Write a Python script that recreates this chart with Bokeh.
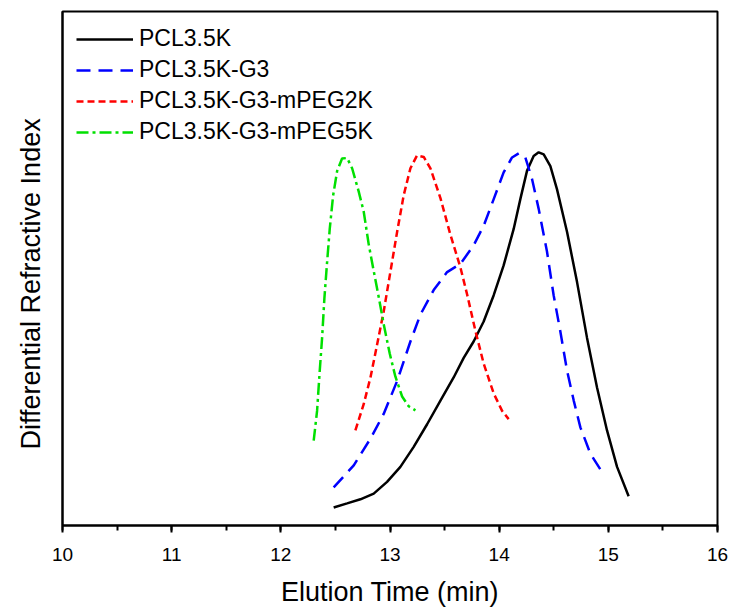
from bokeh.plotting import figure
from bokeh.models import SingleIntervalTicker, FixedTicker, Range1d, Title
from bokeh.embed import file_html
from bokeh.resources import INLINE

# Data (elution time in min, relative RI signal)
pcl_t = [12.484, 12.607, 12.729, 12.851, 12.973, 13.095, 13.217, 13.340, 13.462, 13.583,
         13.675, 13.766, 13.858, 13.950, 14.041, 14.133, 14.194, 14.255, 14.316, 14.362,
         14.408, 14.469, 14.530, 14.622, 14.713, 14.805, 14.897, 14.988, 15.080, 15.186]
pcl_y = [3.5, 4.3, 5.1, 6.2, 8.5, 11.4, 15.3, 19.7, 24.3, 28.8,
         32.6, 35.8, 39.7, 44.8, 50.6, 57.7, 63.5, 69.0, 71.9, 72.6,
         72.2, 69.9, 65.4, 57.1, 47.4, 36.5, 26.8, 18.5, 11.4, 5.7]

g3_t = [12.484, 12.668, 12.821, 12.942, 13.065, 13.187, 13.278, 13.400, 13.523, 13.645,
        13.766, 13.858, 13.950, 14.041, 14.118, 14.179, 14.240, 14.301, 14.362, 14.438,
        14.499, 14.560, 14.622, 14.683, 14.744, 14.835, 14.942]
g3_y = [7.4, 11.7, 16.9, 21.7, 28.1, 35.8, 41.0, 45.8, 49.3, 50.9,
        54.5, 58.3, 63.5, 68.7, 71.6, 72.4, 71.6, 67.4, 61.6, 53.3,
        44.8, 37.8, 30.1, 24.3, 19.1, 14.0, 10.4]

peg2k_t = [12.683, 12.759, 12.821, 12.882, 12.942, 13.004, 13.065, 13.125, 13.187, 13.248,
           13.309, 13.370, 13.462, 13.553, 13.645, 13.706, 13.782, 13.858, 13.950, 14.027, 14.087]
peg2k_y = [18.5, 23.6, 28.8, 35.2, 41.6, 49.4, 57.1, 64.2, 69.5, 72.0,
           71.7, 69.5, 63.7, 56.6, 50.2, 45.0, 37.9, 31.5, 25.7, 22.3, 20.7]

peg5k_t = [12.301, 12.332, 12.356, 12.378, 12.399, 12.424, 12.448, 12.479, 12.516, 12.561,
           12.607, 12.653, 12.713, 12.759, 12.805, 12.851, 12.897, 12.942, 12.997, 13.049,
           13.111, 13.171, 13.233]
peg5k_y = [16.5, 22.3, 30.0, 36.5, 44.2, 51.3, 57.7, 64.2, 69.0, 71.4,
           71.5, 69.5, 65.0, 61.1, 54.7, 49.5, 44.4, 39.2, 33.5, 29.0,
           25.1, 23.2, 22.4]

series_names = ["PCL3.5K", "PCL3.5K-G3", "PCL3.5K-G3-mPEG2K", "PCL3.5K-G3-mPEG5K"]
x_title = "Elution Time (min)"
y_title = "Differential Refractive Index"

FONT = "Liberation Sans"

p = figure(width=731, height=609, output_backend="svg", toolbar_location=None,
           x_range=Range1d(10, 16), y_range=Range1d(0, 100),
           min_border_left=62, min_border_right=14, min_border_top=11, min_border_bottom=80)

p.line(pcl_t, pcl_y, line_color="black", line_width=2.5, legend_label=series_names[0])
p.line(g3_t, g3_y, line_color="#0000ff", line_width=2.5, line_dash="14 8", legend_label=series_names[1])
p.line(peg2k_t, peg2k_y, line_color="#ff0000", line_width=2.5, line_dash="7 4", legend_label=series_names[2])
p.line(peg5k_t, peg5k_y, line_color="#00e000", line_width=2.5, line_dash="12 4 3 4", legend_label=series_names[3])

p.grid.visible = False
p.outline_line_color = "black"
p.outline_line_width = 2
p.background_fill_color = "white"
p.border_fill_color = "white"

xa = p.xaxis[0]
xa.ticker = SingleIntervalTicker(interval=1, num_minor_ticks=2)
xa.axis_line_width = 2
xa.major_tick_line_width = 2
xa.minor_tick_line_width = 2
xa.major_tick_out = 7
xa.major_tick_in = 0
xa.minor_tick_out = 5
xa.minor_tick_in = 0
xa.major_label_text_font = FONT
xa.major_label_text_font_size = "19px"
xa.major_label_text_color = "black"
xa.major_label_standoff = 15
xa.axis_label = x_title
xa.axis_label_text_font = FONT
xa.axis_label_text_font_size = "27px"
xa.axis_label_text_font_style = "normal"
xa.axis_label_text_color = "black"
xa.axis_label_standoff = 13

ya = p.yaxis[0]
ya.ticker = FixedTicker(ticks=[])
ya.axis_line_width = 2
ya.major_tick_line_color = None
ya.minor_tick_line_color = None
ya.major_label_text_font_size = "0px"

# y-axis title as a side title, so it can sit slightly below the axis centre
ytitle = Title(text=y_title, align="left", vertical_align="top", offset=76, standoff=29,
               text_font=FONT, text_font_size="27px", text_font_style="normal",
               text_color="black")
p.add_layout(ytitle, "left")

lg = p.legend[0]
lg.location = "top_left"
lg.border_line_color = None
lg.background_fill_alpha = 0
lg.label_text_font = FONT
lg.label_text_font_size = "23px"
lg.label_text_color = "black"
lg.glyph_width = 57
lg.glyph_height = 24
lg.label_height = 24
lg.label_standoff = 6
lg.spacing = 4
lg.padding = 10
lg.margin = 14

open("out.html", "w").write(file_html(p, INLINE))
